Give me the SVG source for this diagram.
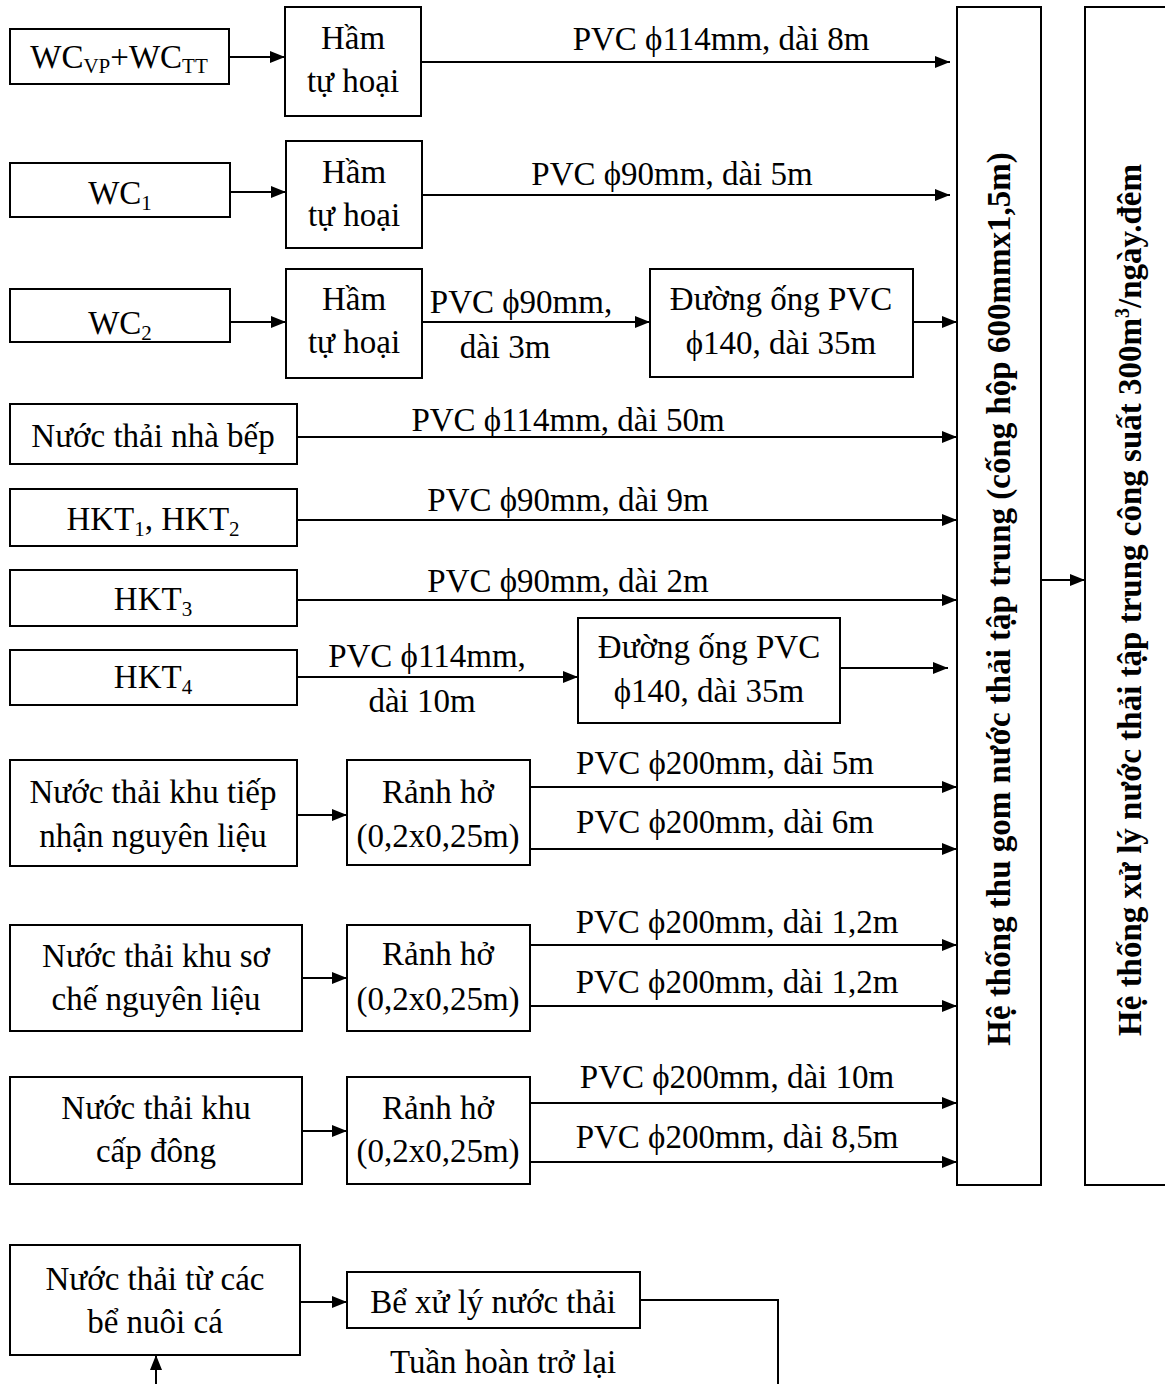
<svg xmlns="http://www.w3.org/2000/svg" width="1165" height="1384" viewBox="0 0 1165 1384">
  <style>
    .box { fill: #fff; stroke: #000; stroke-width: 2; }
    .t { font-family: "Liberation Serif", "Times New Roman", serif; font-size: 33px; fill: #000; text-anchor: middle; }
    .sub { font-size: 21px; }
    .bar { font-family: "Liberation Serif", "Times New Roman", serif; font-size: 33px; font-weight: bold; fill: #000; text-anchor: middle; }
    .ln { fill: none; stroke: #000; stroke-width: 2; }
    .arr { marker-end: url(#ah); }
  </style>
  <defs>
    <marker id="ah" markerUnits="userSpaceOnUse" markerWidth="15" markerHeight="12" refX="15" refY="6" orient="auto">
      <path d="M0,0 L15,6 L0,12 Z" fill="#000"/>
    </marker>
  </defs>

  <rect width="1165" height="1384" fill="#fff"/>

  <!-- connectors -->
  <g id="connectors">
    <line class="ln arr" x1="229" y1="57" x2="285" y2="57"/>
    <line class="ln arr" x1="421" y1="62" x2="950" y2="62"/>
    <line class="ln arr" x1="230" y1="192" x2="286" y2="192"/>
    <line class="ln arr" x1="422" y1="195" x2="950" y2="195"/>
    <line class="ln arr" x1="230" y1="322" x2="286" y2="322"/>
    <line class="ln arr" x1="422" y1="322" x2="650" y2="322"/>
    <line class="ln arr" x1="913" y1="322" x2="957" y2="322"/>
    <line class="ln arr" x1="297" y1="437" x2="957" y2="437"/>
    <line class="ln arr" x1="297" y1="520" x2="957" y2="520"/>
    <line class="ln arr" x1="297" y1="600" x2="957" y2="600"/>
    <line class="ln arr" x1="297" y1="677" x2="578" y2="677"/>
    <line class="ln arr" x1="840" y1="668" x2="948" y2="668"/>
    <line class="ln arr" x1="297" y1="815" x2="347" y2="815"/>
    <line class="ln arr" x1="530" y1="787" x2="957" y2="787"/>
    <line class="ln arr" x1="530" y1="849" x2="957" y2="849"/>
    <line class="ln arr" x1="302" y1="978" x2="347" y2="978"/>
    <line class="ln arr" x1="530" y1="945" x2="957" y2="945"/>
    <line class="ln arr" x1="530" y1="1006" x2="957" y2="1006"/>
    <line class="ln arr" x1="302" y1="1131" x2="347" y2="1131"/>
    <line class="ln arr" x1="530" y1="1103" x2="957" y2="1103"/>
    <line class="ln arr" x1="530" y1="1162" x2="957" y2="1162"/>
    <line class="ln arr" x1="1041" y1="580" x2="1085" y2="580"/>
    <line class="ln arr" x1="300" y1="1302" x2="347" y2="1302"/>
    <polyline class="ln" points="640,1300 778,1300 778,1384"/>
    <line class="ln arr" x1="156" y1="1384" x2="156" y2="1355"/>
  </g>

  <!-- pipe labels -->
  <g id="labels">
    <text class="t" x="721" y="50">PVC ϕ114mm, dài 8m</text>
    <text class="t" x="672" y="185">PVC ϕ90mm, dài 5m</text>
    <text class="t" x="521" y="313">PVC ϕ90mm,</text>
    <text class="t" x="505" y="358">dài 3m</text>
    <text class="t" x="568" y="431">PVC ϕ114mm, dài 50m</text>
    <text class="t" x="568" y="511">PVC ϕ90mm, dài 9m</text>
    <text class="t" x="568" y="592">PVC ϕ90mm, dài 2m</text>
    <text class="t" x="427" y="667">PVC ϕ114mm,</text>
    <text class="t" x="422" y="712">dài 10m</text>
    <text class="t" x="725" y="774">PVC ϕ200mm, dài 5m</text>
    <text class="t" x="725" y="833">PVC ϕ200mm, dài 6m</text>
    <text class="t" x="737" y="933">PVC ϕ200mm, dài 1,2m</text>
    <text class="t" x="737" y="993">PVC ϕ200mm, dài 1,2m</text>
    <text class="t" x="737" y="1088">PVC ϕ200mm, dài 10m</text>
    <text class="t" x="737" y="1148">PVC ϕ200mm, dài 8,5m</text>
    <text class="t" x="503" y="1373">Tuần hoàn trở lại</text>
  </g>

  <g id="wc-vp-tt">
    <rect class="box" x="10" y="29" width="219" height="55"/>
    <text class="t" x="119" y="68">WC<tspan class="sub" dy="5">VP</tspan><tspan dy="-5">+WC</tspan><tspan class="sub" dy="5">TT</tspan></text>
  </g>
  <g id="ham-1">
    <rect class="box" x="285" y="7" width="136" height="109"/>
    <text class="t" x="353" y="49">Hầm</text>
    <text class="t" x="353" y="92">tự hoại</text>
  </g>

  <g id="wc-1">
    <rect class="box" x="10" y="163" width="220" height="54"/>
    <text class="t" x="120" y="204">WC<tspan class="sub" dy="6">1</tspan></text>
  </g>
  <g id="ham-2">
    <rect class="box" x="286" y="141" width="136" height="107"/>
    <text class="t" x="354" y="183">Hầm</text>
    <text class="t" x="354" y="226">tự hoại</text>
  </g>

  <g id="wc-2">
    <rect class="box" x="10" y="289" width="220" height="53"/>
    <text class="t" x="120" y="334">WC<tspan class="sub" dy="6">2</tspan></text>
  </g>
  <g id="ham-3">
    <rect class="box" x="286" y="269" width="136" height="109"/>
    <text class="t" x="354" y="310">Hầm</text>
    <text class="t" x="354" y="353">tự hoại</text>
  </g>
  <g id="pipe-140-a">
    <rect class="box" x="650" y="269" width="263" height="108"/>
    <text class="t" x="781" y="310">Đường ống PVC</text>
    <text class="t" x="781" y="354">ϕ140, dài 35m</text>
  </g>

  <g id="kitchen">
    <rect class="box" x="10" y="404" width="287" height="60"/>
    <text class="t" x="153" y="447">Nước thải nhà bếp</text>
  </g>
  <g id="hkt-1-2">
    <rect class="box" x="10" y="489" width="287" height="57"/>
    <text class="t" x="153" y="530">HKT<tspan class="sub" dy="6">1</tspan><tspan dy="-6">, HKT</tspan><tspan class="sub" dy="6">2</tspan></text>
  </g>
  <g id="hkt-3">
    <rect class="box" x="10" y="570" width="287" height="56"/>
    <text class="t" x="153" y="610">HKT<tspan class="sub" dy="6">3</tspan></text>
  </g>
  <g id="hkt-4">
    <rect class="box" x="10" y="650" width="287" height="55"/>
    <text class="t" x="153" y="688">HKT<tspan class="sub" dy="6">4</tspan></text>
  </g>
  <g id="pipe-140-b">
    <rect class="box" x="578" y="618" width="262" height="105"/>
    <text class="t" x="709" y="658">Đường ống PVC</text>
    <text class="t" x="709" y="702">ϕ140, dài 35m</text>
  </g>

  <g id="receiving">
    <rect class="box" x="10" y="760" width="287" height="106"/>
    <text class="t" x="153" y="803">Nước thải khu tiếp</text>
    <text class="t" x="153" y="847">nhận nguyên liệu</text>
  </g>
  <g id="drain-1">
    <rect class="box" x="347" y="760" width="183" height="105"/>
    <text class="t" x="438" y="803">Rảnh hở</text>
    <text class="t" x="438" y="847">(0,2x0,25m)</text>
  </g>

  <g id="preprocess">
    <rect class="box" x="10" y="925" width="292" height="106"/>
    <text class="t" x="156" y="967">Nước thải khu sơ</text>
    <text class="t" x="156" y="1010">chế nguyên liệu</text>
  </g>
  <g id="drain-2">
    <rect class="box" x="347" y="925" width="183" height="106"/>
    <text class="t" x="438" y="965">Rảnh hở</text>
    <text class="t" x="438" y="1010">(0,2x0,25m)</text>
  </g>

  <g id="freezing">
    <rect class="box" x="10" y="1077" width="292" height="107"/>
    <text class="t" x="156" y="1119">Nước thải khu</text>
    <text class="t" x="156" y="1162">cấp đông</text>
  </g>
  <g id="drain-3">
    <rect class="box" x="347" y="1077" width="183" height="107"/>
    <text class="t" x="438" y="1119">Rảnh hở</text>
    <text class="t" x="438" y="1162">(0,2x0,25m)</text>
  </g>

  <g id="collection">
    <rect class="box" x="957" y="7" width="84" height="1178"/>
    <text class="bar" transform="translate(1010,599) rotate(-90)">Hệ thống thu gom nước thải tập trung (cống hộp 600mmx1,5m)</text>
  </g>
  <g id="treatment">
    <rect class="box" x="1085" y="7" width="100" height="1178"/>
    <text class="bar" transform="translate(1141,600) rotate(-90)">Hệ thống xử lý nước thải tập trung công suất 300m<tspan font-size="20" dy="-12">3</tspan><tspan dy="12">/ngày.đêm</tspan></text>
  </g>

  <g id="fish-tanks">
    <rect class="box" x="10" y="1245" width="290" height="110"/>
    <text class="t" x="155" y="1290">Nước thải từ các</text>
    <text class="t" x="155" y="1333">bể nuôi cá</text>
  </g>
  <g id="fish-treatment">
    <rect class="box" x="347" y="1272" width="293" height="56"/>
    <text class="t" x="493" y="1313">Bể xử lý nước thải</text>
  </g>
</svg>
